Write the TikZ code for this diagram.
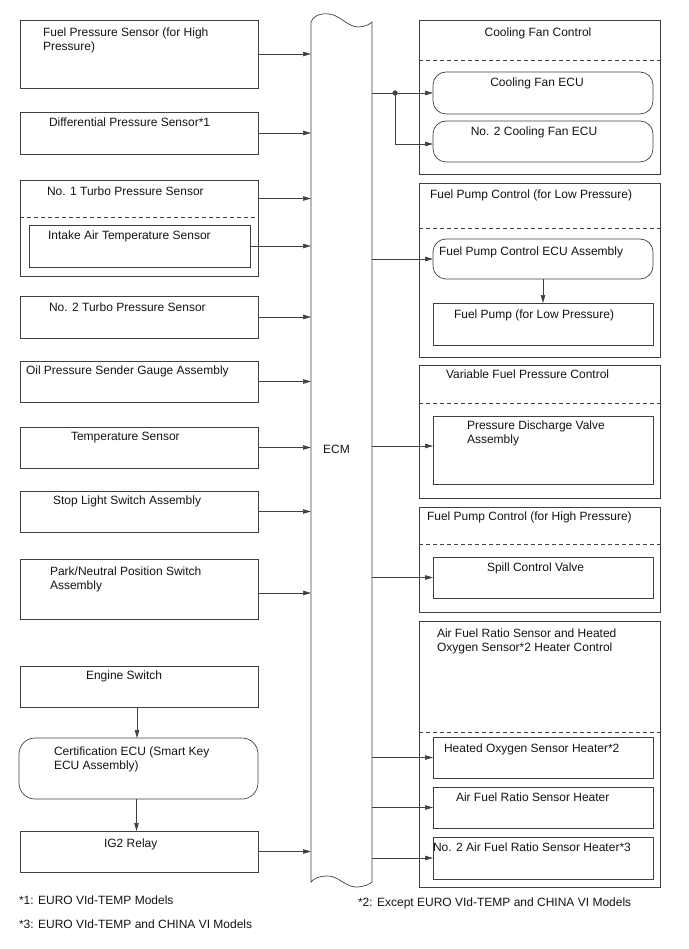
\documentclass[tikz,border=0pt]{standalone}
\usepackage{fontspec}
\setmainfont{Liberation Sans}
\usetikzlibrary{arrows.meta}
\definecolor{lc}{gray}{0.25}
\definecolor{tc}{gray}{0.08}
\begin{document}
\begin{tikzpicture}[x=1pt,y=-1pt,line width=0.7pt,
  box/.style={draw=lc,rectangle,inner sep=0pt,outer sep=0pt},
  rbox/.style={box,rounded corners=13pt},
  ghost/.style={rectangle,inner sep=0pt,outer sep=0pt},
  lbl/.style={anchor=north west,inner sep=0pt,outer sep=0pt,align=left,text=tc,font=\fontsize{12}{14}\selectfont},
  clbl/.style={lbl,anchor=north,align=center},
  arr/.style={draw=lc,-{Triangle[length=8pt,width=4.5pt]}},
  dashline/.style={draw=lc,dash pattern=on 4pt off 3pt}]
\useasboundingbox (0,0) rectangle (688,949);

% ---------- ECM ----------
\node[ghost,minimum width=61pt,minimum height=860pt] (ECM) at (341.5,452) {};
\draw[draw=lc] (311,882) -- (311,22)
  .. controls (313,16) and (320,13) .. (329,14)
  .. controls (340,15) and (348,27) .. (358,27)
  .. controls (365,27) and (370,24) .. (372,22)
  -- (372,882)
  .. controls (370,884) and (364,887) .. (356,887)
  .. controls (346,887) and (338,876) .. (328,876)
  .. controls (320,876) and (314,878) .. (311,882) -- cycle;
\node[inner sep=0pt,text=tc,font=\fontsize{12}{14}\selectfont] (ECMt) at (336.5,449) {ECM};

% ---------- left boxes ----------
\node[box,minimum width=238pt,minimum height=68pt] (L1) at (139,54) {};
\node[lbl] (L1t) at (43,27.5) {Fuel Pressure Sensor (for High\\Pressure)};
\node[box,minimum width=238pt,minimum height=42pt] (L2) at (139,133) {};
\node[lbl] (L2t) at (49,117.5) {Differential Pressure Sensor*1};
\node[box,minimum width=238pt,minimum height=96pt] (L3) at (139,228) {};
\node[ghost,minimum width=238pt,minimum height=37pt] (L3top) at (139,198.5) {};
\draw[dashline] (L3top.south west) -- (L3top.south east);
\node[lbl] (L3t) at (47,186.5) {No. 1 Turbo Pressure Sensor};
\node[box,minimum width=221pt,minimum height=42pt] (L3in) at (139.5,246) {};
\node[lbl] (L3it) at (48,230.5) {Intake Air Temperature Sensor};
\node[box,minimum width=238pt,minimum height=42pt] (L4) at (139,317) {};
\node[lbl] (L4t) at (49,302.5) {No. 2 Turbo Pressure Sensor};
\node[box,minimum width=238pt,minimum height=41pt] (L5) at (139,381.5) {};
\node[lbl] (L5t) at (26,365.5) {Oil Pressure Sender Gauge Assembly};
\node[box,minimum width=238pt,minimum height=41pt] (L6) at (139,447.5) {};
\node[lbl] (L6t) at (71,432.5) {Temperature Sensor};
\node[box,minimum width=238pt,minimum height=41pt] (L7) at (139,511.5) {};
\node[lbl] (L7t) at (53,495.5) {Stop Light Switch Assembly};
\node[box,minimum width=238pt,minimum height=60pt] (L8) at (139,589) {};
\node[lbl] (L8t) at (50,566.5) {Park/Neutral Position Switch\\Assembly};
\node[box,minimum width=238pt,minimum height=41pt] (L9) at (139,686.5) {};
\node[lbl] (L9t) at (86,670.5) {Engine Switch};
\node[box,rounded corners=16pt,minimum width=239pt,minimum height=61pt] (L10) at (138.5,768.5) {};
\node[lbl] (L10t) at (54,746.5) {Certification ECU (Smart Key\\ECU Assembly)};
\node[box,minimum width=238pt,minimum height=41pt] (L11) at (139,851.5) {};
\node[lbl] (L11t) at (104,838.5) {IG2 Relay};

% left connectors
\draw[arr] (L1.east) -- (L1.east -| ECM.west);
\draw[arr] (L2.east) -- (L2.east -| ECM.west);
\draw[arr] (L3top.east) -- (L3top.east -| ECM.west);
\draw[arr] (L3in.east) -- (L3in.east -| ECM.west);
\draw[arr] (L4.east) -- (L4.east -| ECM.west);
\draw[arr] (L5.east) -- (L5.east -| ECM.west);
\draw[arr] (L6.east) -- (L6.east -| ECM.west);
\draw[arr] (L7.east) -- (L7.east -| ECM.west);
\draw[arr] ([yshift=-4pt]L8.east) -- ([yshift=-4pt]L8.east -| ECM.west);
\draw[arr] ([xshift=-2pt]L9.south) -- ([xshift=-2pt]L9.south |- L10.north);
\draw[arr] ([xshift=-2pt]L10.south |- L10.south) -- ([xshift=-2pt]L10.south |- L11.north);
\draw[arr] (L11.east) -- (L11.east -| ECM.west);

% ---------- right boxes ----------
% Cooling fan
\node[box,minimum width=241pt,minimum height=154pt] (R1) at (539.5,97) {};
\draw[dashline] (R1.west |- 0,60) -- (R1.east |- 0,60);
\node[clbl] (R1t) at (538,27.5) {Cooling Fan Control};
\node[rbox,minimum width=220pt,minimum height=42pt] (R1a) at (543,93) {};
\node[clbl] (R1at) at (537,77.5) {Cooling Fan ECU};
\node[rbox,minimum width=220pt,minimum height=41pt] (R1b) at (543,141.5) {};
\node[clbl] (R1bt) at (534,126.5) {No. 2 Cooling Fan ECU};
\coordinate (J) at (395,93);
\draw[draw=lc] (R1a.west -| ECM.east) -- (J);
\draw[arr] (J) -- (R1a.west);
\draw[arr] (J) |- ([yshift=-2.5pt]R1b.west);
\fill[lc] (J) circle (2.6pt);

% Fuel pump low
\node[box,minimum width=241pt,minimum height=174pt] (R2) at (539.5,270) {};
\draw[dashline] (R2.west |- 0,228) -- (R2.east |- 0,228);
\node[lbl] (R2t) at (430,189.5) {Fuel Pump Control (for Low Pressure)};
\node[rbox,minimum width=220pt,minimum height=40pt] (R2a) at (543,259) {};
\node[lbl] (R2at) at (439,246.5) {Fuel Pump Control ECU Assembly};
\node[box,minimum width=220pt,minimum height=42pt] (R2b) at (543,324) {};
\node[lbl] (R2bt) at (454,309.5) {Fuel Pump (for Low Pressure)};
\draw[arr] (R2a.west -| ECM.east) -- (R2a.west);
\draw[arr] (R2a.south) -- (R2b.north);

% Variable fuel pressure
\node[box,minimum width=241pt,minimum height=133pt] (R3) at (539.5,431.5) {};
\draw[dashline] (R3.west |- 0,403) -- (R3.east |- 0,403);
\node[lbl] (R3t) at (446,369.5) {Variable Fuel Pressure Control};
\node[box,minimum width=220pt,minimum height=68pt] (R3a) at (543,450) {};
\node[lbl] (R3at) at (467,420.5) {Pressure Discharge Valve\\Assembly};
\draw[arr] ([yshift=4pt]R3a.west -| ECM.east) -- ([yshift=4pt]R3a.west);

% Fuel pump high
\node[box,minimum width=241pt,minimum height=105pt] (R4) at (539.5,559.5) {};
\draw[dashline] (R4.west |- 0,544) -- (R4.east |- 0,544);
\node[lbl] (R4t) at (427,511.5) {Fuel Pump Control (for High Pressure)};
\node[box,minimum width=220pt,minimum height=41pt] (R4a) at (543,577.5) {};
\node[lbl] (R4at) at (487,562.5) {Spill Control Valve};
\draw[arr] (R4a.west -| ECM.east) -- (R4a.west);

% AFR heaters
\node[box,minimum width=241pt,minimum height=266pt] (R5) at (539.5,754) {};
\draw[dashline] (R5.west |- 0,732) -- (R5.east |- 0,732);
\node[lbl] (R5t) at (437,628.5) {Air Fuel Ratio Sensor and Heated\\Oxygen Sensor*2 Heater Control};
\node[box,minimum width=220pt,minimum height=41pt] (R5a) at (543,757.5) {};
\node[lbl] (R5at) at (444,743.5) {Heated Oxygen Sensor Heater*2};
\node[box,minimum width=220pt,minimum height=41pt] (R5b) at (543,807.5) {};
\node[lbl] (R5bt) at (456,792.5) {Air Fuel Ratio Sensor Heater};
\node[box,minimum width=220pt,minimum height=42pt] (R5c) at (543,858) {};
\node[lbl] (R5ct) at (433,842.5) {No. 2 Air Fuel Ratio Sensor Heater*3};
\draw[arr] (R5a.west -| ECM.east) -- (R5a.west);
\draw[arr] (R5b.west -| ECM.east) -- (R5b.west);
\draw[arr] (R5c.west -| ECM.east) -- (R5c.west);

% ---------- footnotes ----------
\node[lbl] (F1) at (19,896.2) {*1: EURO VId-TEMP Models};
\node[lbl] (F3) at (19,919.8) {*3: EURO VId-TEMP and CHINA VI Models};
\node[lbl] (F2) at (358,897.8) {*2: Except EURO VId-TEMP and CHINA VI Models};
\end{tikzpicture}
\end{document}
